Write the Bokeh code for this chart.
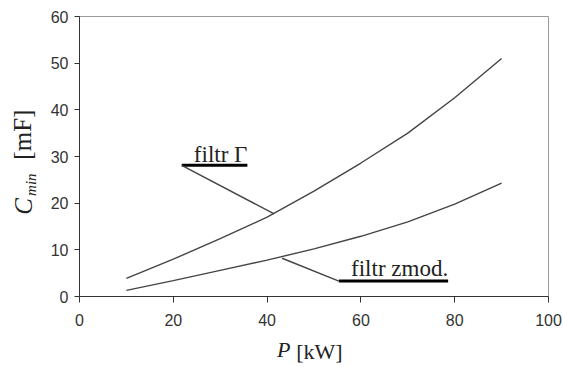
import math
from bokeh.plotting import figure
from bokeh.models import Label, Range1d, FixedTicker, LinearAxis
from bokeh.embed import file_html
from bokeh.resources import INLINE

# Power [kW] and minimum capacitance [mF] for the two filter variants
power_kw = [10, 20, 30, 40, 50, 60, 70, 80, 90]
c_filtr_gamma = [3.9, 8.0, 12.4, 17.0, 22.6, 28.6, 35.0, 42.6, 51.0]
c_filtr_zmod = [1.3, 3.4, 5.6, 7.8, 10.2, 12.9, 16.0, 19.8, 24.3]

x_ticks = [0, 20, 40, 60, 80, 100]
y_ticks = [0, 10, 20, 30, 40, 50, 60]

serif = "Liberation Serif"
sans = "Liberation Sans"
ink = "#222222"
NBSP = "\u00a0"

p = figure(width=563, height=367, output_backend="svg", toolbar_location=None,
           x_range=Range1d(0, 100), y_range=Range1d(0, 60),
           min_border_left=79, min_border_right=15, min_border_top=16,
           min_border_bottom=71)
p.background_fill_color = "white"
p.border_fill_color = "white"
p.outline_line_color = "#9a9a9a"
p.outline_line_width = 1
p.xgrid.visible = False
p.ygrid.visible = False

for ax, ticks in ((p.xaxis, x_ticks), (p.yaxis, y_ticks)):
    ax.ticker = FixedTicker(ticks=ticks)
    ax.minor_tick_line_color = None
    ax.major_tick_in = 0
    ax.major_tick_out = 5
    ax.major_tick_line_color = "#333333"
    ax.axis_line_color = "#333333"
    ax.major_label_text_font = sans
    ax.major_label_text_font_size = "16px"
    ax.major_label_text_color = "#333333"
    ax.major_label_standoff = 6
    ax.axis_label = None
p.xaxis.major_tick_out = 6
p.xaxis.major_label_standoff = 11


def title_piece(side, text, size, style, standoff):
    """Tick-less axis that carries one piece of a mixed-style axis title.
    Non-breaking spaces around the text slide it along the axis."""
    ax = LinearAxis(ticker=FixedTicker(ticks=[]),
                    axis_label=text, axis_label_standoff=standoff,
                    axis_label_text_font=serif,
                    axis_label_text_font_size=size,
                    axis_label_text_font_style=style,
                    axis_label_text_color=ink,
                    axis_line_color=None, major_tick_line_color=None,
                    minor_tick_line_color=None, major_tick_in=0,
                    major_tick_out=0, minor_tick_in=0, minor_tick_out=0,
                    major_label_standoff=0)
    p.add_layout(ax, side)


# x axis title: P [kW]
title_piece("below", "P" + NBSP * 11, "22px", "italic", 8)
title_piece("below", NBSP * 2 + "[kW]", "22px", "normal", -26)

# y axis title: C_min [mF]  (rotated text reads bottom to top)
title_piece("left", "min" + NBSP * 15, "15px", "italic", 9)
title_piece("left", "C" + NBSP * 16, "25px", "italic", -17)
title_piece("left", NBSP * 7 + "[mF]", "25px", "normal", -29)

# curves
p.line(power_kw, c_filtr_gamma, line_color="#444444", line_width=1.4)
p.line(power_kw, c_filtr_zmod, line_color="#444444", line_width=1.4)

# callout for "filtr Γ"
p.line([21.8, 35.8], [28.1, 28.1], line_color="black", line_width=3)
p.line([21.8, 41.5], [28.1, 17.7], line_color="#444444", line_width=1.4)
p.add_layout(Label(x=35.8, y=30.4, text="filtr Γ", text_align="right",
                   text_baseline="alphabetic", text_font=serif,
                   text_font_size="23px", text_color=ink))

# callout for "filtr zmod."
p.line([55.3, 78.6], [3.3, 3.3], line_color="black", line_width=3)
p.line([55.3, 43.2], [3.3, 8.2], line_color="#444444", line_width=1.4)
p.add_layout(Label(x=78.6, y=6.1, text="filtr zmod.", text_align="right",
                   text_baseline="alphabetic", text_font=serif,
                   text_font_size="23px", text_color=ink))

open("out.html", "w").write(file_html(p, INLINE))
